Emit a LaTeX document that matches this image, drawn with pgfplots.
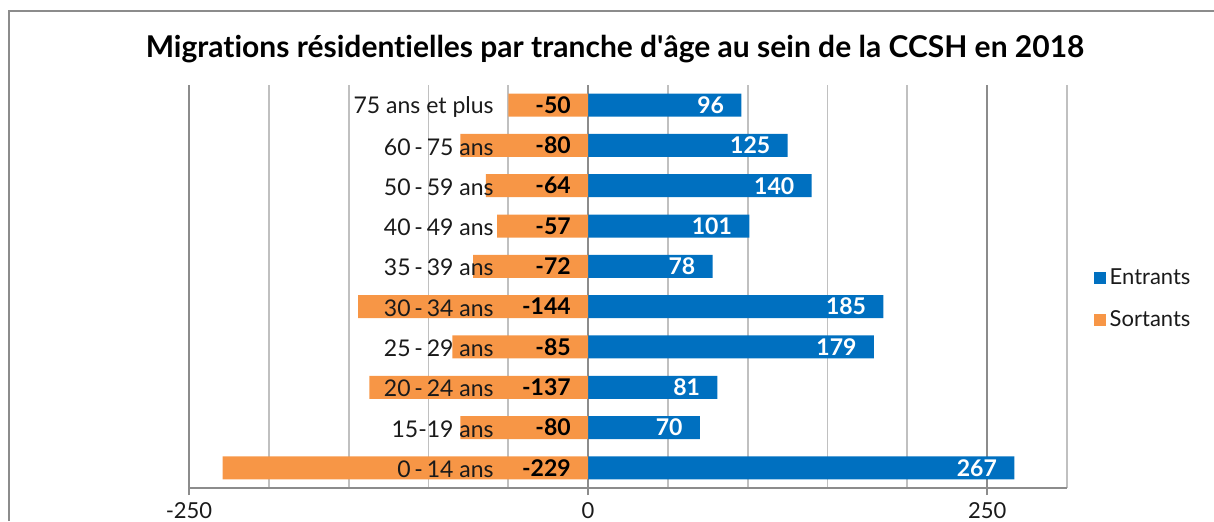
\documentclass[border=0pt]{standalone}
\usepackage{pgfplots}
\pgfplotsset{compat=1.18}
\usepackage{fontspec}
\setmainfont{Lato}[Ligatures={NoCommon}]
\definecolor{entr}{HTML}{0070C0}
\definecolor{sort}{HTML}{F79646}
\definecolor{gridmaj}{HTML}{8C8C8C}
\definecolor{gridmin}{HTML}{C0C0C0}
\definecolor{txt}{HTML}{1A1A1A}
% tick labels above the bars (category names sit over the orange bars)
\pgfplotsset{
  layers/labelsontop/.define layer set={axis background,axis grid,axis ticks,axis lines,main,axis tick labels,axis descriptions,axis foreground}{
    grid style={/pgfplots/on layer=axis grid},
    tick style={/pgfplots/on layer=axis ticks},
    axis line style={/pgfplots/on layer=axis lines},
    label style={/pgfplots/on layer=axis descriptions},
    legend style={/pgfplots/on layer=axis descriptions},
    title style={/pgfplots/on layer=axis descriptions},
    colorbar style={/pgfplots/on layer=axis descriptions},
    ticklabel style={/pgfplots/on layer=axis tick labels},
    axis background@ style={/pgfplots/on layer=axis background},
    3d box foreground style={/pgfplots/on layer=axis foreground},
  },
  sqlegend/.style={legend image code/.code={\fill[##1] (0pt,-3pt) rectangle (6pt,3pt);}},
}
\begin{document}
\begin{tikzpicture}
\draw[gridmaj, line width=1pt] (4.5pt,0) -- (4.5pt,255pt) -- (607pt,255pt);
\node[font=\bfseries\fontsize{15}{18}\selectfont, anchor=base, text=black] at (307.5pt,232pt)
  {Migrations résidentielles par tranche d\textquotesingle âge au sein de la CCSH en 2018};
\begin{axis}[
  set layers=labelsontop,
  at={(94.5pt,16.5pt)}, anchor=south west,
  scale only axis, width=439pt, height=201.5pt,
  xbar,
  xmin=-250, xmax=300, ymin=-0.5, ymax=9.5,
  axis x line*=bottom, axis y line*=left,
  y axis line style={draw=none},
  x axis line style={gridmaj, line width=1pt},
  xtick={-250,0,250}, xticklabels={-250,0,250},
  minor xtick={-200,-150,-100,-50,50,100,150,200,300},
  xmajorgrids, xminorgrids,
  major grid style={gridmaj, line width=0.9pt},
  minor grid style={gridmin, line width=0.9pt},
  tick align=outside, major tick length=3.5pt, minor tick length=0pt,
  xtick style={gridmaj, line width=1pt},
  ytick style={draw=none},
  ytick={0,...,9},
  yticklabels={0\,-\,14 ans, 15-19 ans, 20\,-\,24 ans, 25\,-\,29 ans, 30\,-\,34 ans,
    35\,-\,39 ans, 40\,-\,49 ans, 50\,-\,59 ans, 60\,-\,75 ans, 75 ans et plus},
  yticklabel style={anchor=east, inner sep=0pt, xshift=156pt, yshift=-0.7pt, text=txt,
    font=\fontsize{11.5}{13}\selectfont},
  xticklabel style={text=txt, font=\fontsize{11}{13}\selectfont},
  legend style={draw=none, fill=none, at={(1.030,0.555)}, anchor=north west,
    font=\fontsize{11}{13}\selectfont, text=txt, row sep=7.5pt, inner sep=0pt,
    /tikz/every even column/.append style={column sep=3pt}},
  legend cell align=left,
]
\addplot[fill=entr, draw=none, bar width=11.5pt, bar shift=0pt, point meta=x, sqlegend,
  nodes near coords={\pgfmathprintnumber[assume math mode=true]{\pgfplotspointmeta}},
  every node near coord/.append style={anchor=east, inner sep=0pt, xshift=-8.5pt,
    text=white, font=\bfseries\fontsize{11.5}{13}\selectfont}
] coordinates {
  (267,0) (70,1) (81,2) (179,3) (185,4) (78,5) (101,6) (140,7) (125,8) (96,9)
};
\addlegendentry{Entrants}
\addplot[fill=sort, draw=none, bar width=11.5pt, bar shift=0pt, point meta=x, sqlegend,
  visualization depends on={rawx \as \xv},
  nodes near coords={\pgfmathprintnumber[assume math mode=true]{\pgfplotspointmeta}},
  every node near coord/.append style={anchor=east, inner sep=0pt,
    xshift={-8.5pt-(\xv)*0.79818pt},
    text=black, font=\bfseries\fontsize{11.5}{13}\selectfont}
] coordinates {
  (-229,0) (-80,1) (-137,2) (-85,3) (-144,4) (-72,5) (-57,6) (-64,7) (-80,8) (-50,9)
};
\addlegendentry{Sortants}
\end{axis}
\pgfresetboundingbox
\path[use as bounding box] (0,0) rectangle (607pt,260.5pt);
\end{tikzpicture}
\end{document}
